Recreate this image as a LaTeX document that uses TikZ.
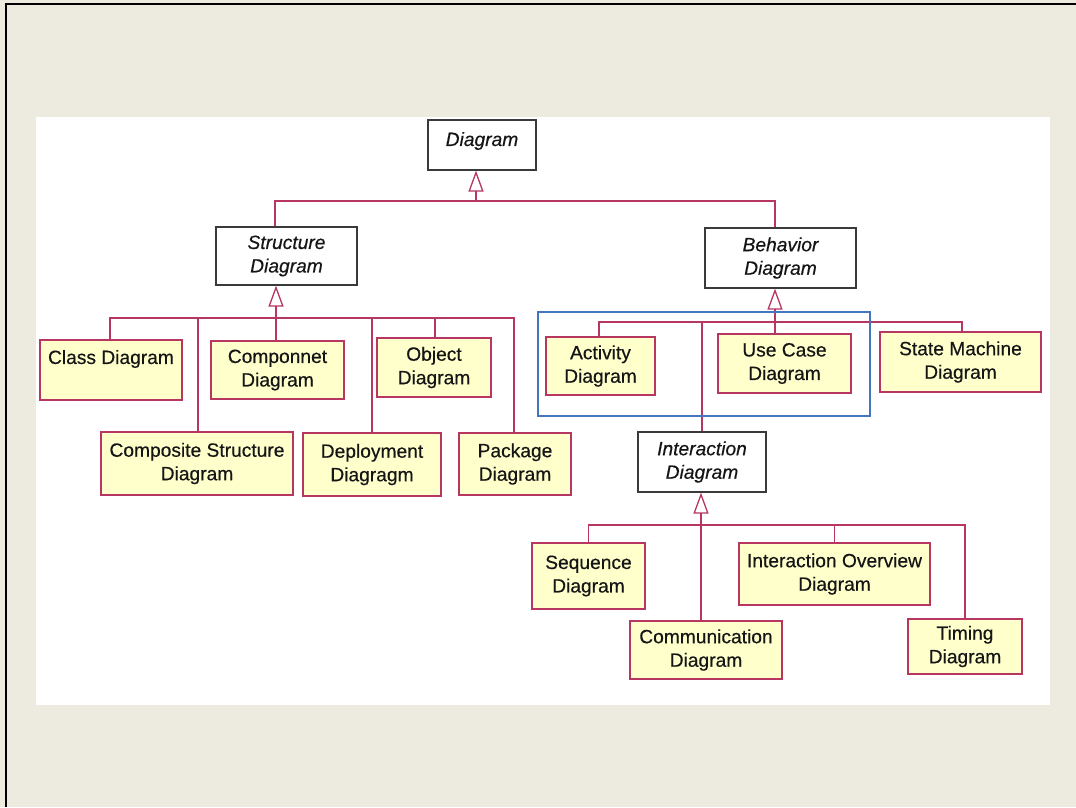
\documentclass[tikz,border=0pt]{standalone}
\usepackage{fontspec}
\setmainfont[FakeBold=0.4]{Liberation Sans}
\usetikzlibrary{arrows.meta}

\definecolor{slidebg}{HTML}{EDEAE0}
\definecolor{umlred}{HTML}{B73762}
\definecolor{notefill}{HTML}{FFFFCC}
\definecolor{hiblue}{HTML}{4475BD}
\definecolor{absborder}{HTML}{3A3A3A}
\definecolor{ink}{HTML}{151515}

\tikzset{
  boxfont/.style={font=\fontsize{19.2}{23.5}\selectfont},
  concrete/.style={draw=umlred, line width=1.4pt, fill=notefill, text=ink,
    boxfont, align=center, inner sep=0pt},
  abstract/.style={draw=absborder, line width=1.2pt, fill=white, text=ink,
    font=\fontsize{19.2}{23.5}\selectfont\itshape, align=center, inner sep=0pt},
  conn/.style={draw=umlred, line width=1.3pt},
  gen/.style={conn, -{Triangle[open, length=21pt, width=15pt]}},
  highlight/.style={draw=hiblue, line width=2.6pt, inner sep=0pt},
}

\begin{document}
\begin{tikzpicture}[x=1pt, y=-1pt]
  % slide and page
  \useasboundingbox (0,0) rectangle (1076,807);
  \fill[slidebg] (0,0) rectangle (1076,807);
  \fill[white] (36,117) rectangle (1050,705);
  \draw[black, line width=2pt] (6,807) -- (6,3.5) -- (1076,3.5);

  % abstract diagram kinds
  \node[abstract, minimum width=108pt, minimum height=50pt, text depth=12pt] (diag) at (482,145) {Diagram};
  \node[abstract, minimum width=141pt, minimum height=58pt] (struct) at (286.5,256) {Structure\\Diagram};
  \node[abstract, minimum width=151pt, minimum height=60pt] (behav) at (780.5,258) {Behavior\\Diagram};
  \node[abstract, minimum width=128pt, minimum height=60pt] (inter) at (702,462) {Interaction\\Diagram};

  % structure diagrams
  \node[concrete, minimum width=142pt, minimum height=60pt, text depth=26pt] (cls) at (111,370) {Class Diagram};
  \node[concrete, minimum width=133pt, minimum height=58pt] (comp) at (277.5,370) {Componnet\\Diagram};
  \node[concrete, minimum width=114pt, minimum height=59pt] (obj) at (434,367.5) {Object\\Diagram};
  \node[concrete, minimum width=192pt, minimum height=63pt] (compo) at (197,463.5) {Composite Structure\\Diagram};
  \node[concrete, minimum width=138pt, minimum height=63pt] (depl) at (372,464.5) {Deployment\\Diagragm};
  \node[concrete, minimum width=112pt, minimum height=62pt] (pkg) at (515,464) {Package\\Diagram};

  % behavior diagrams
  \node[concrete, minimum width=109pt, minimum height=58pt] (act) at (600.5,366) {Activity\\Diagram};
  \node[concrete, minimum width=133pt, minimum height=59pt] (uc) at (784.5,363.5) {Use Case\\Diagram};
  \node[concrete, minimum width=161pt, minimum height=60pt] (sm) at (960.5,362) {State Machine\\Diagram};

  % interaction diagrams
  \node[concrete, minimum width=113pt, minimum height=66pt] (seq) at (588.5,576) {Sequence\\Diagram};
  \node[concrete, minimum width=191pt, minimum height=62pt] (io) at (834.5,574) {Interaction Overview\\Diagram};
  \node[concrete, minimum width=152pt, minimum height=58pt] (comm) at (706,650) {Communication\\Diagram};
  \node[concrete, minimum width=114pt, minimum height=55pt] (tim) at (965,646.5) {Timing\\Diagram};

  % generalization junctions
  \coordinate (j1) at (476,201);
  \coordinate (j2) at (276,318);
  \coordinate (j3) at (775,322);
  \coordinate (j4) at (701,525);

  % Diagram <- Structure, Behavior
  \draw[gen] (j1) -- (j1 |- diag.south);
  \draw[conn] ([xshift=-11.5pt]struct.north) |- (j1) -| ([xshift=-5.5pt]behav.north);

  % Structure Diagram <- its kinds
  \draw[gen] (j2) -- (j2 |- struct.south);
  \draw[conn] ([xshift=-1pt]cls.north) |- (j2) -| ([xshift=-1pt]pkg.north);
  \draw[conn] ([xshift=1pt]compo.north) -- ([xshift=1pt]compo.north |- j2);
  \draw[conn] (comp.north -| j2) -- (j2);
  \draw[conn] (depl.north) -- (depl.north |- j2);
  \draw[conn] ([xshift=1pt]obj.north) -- ([xshift=1pt]obj.north |- j2);

  % Behavior Diagram <- its kinds
  \draw[gen] (j3) -- (j3 |- behav.south);
  \draw[conn] ([xshift=-1.5pt]act.north) |- (j3) -| ([xshift=1.5pt]sm.north);
  \draw[conn] (uc.north -| j3) -- (j3);
  \draw[conn] (inter.north) -- (inter.north |- j3);

  % Interaction Diagram <- its kinds
  \draw[gen] (j4) -- (j4 |- inter.south);
  \draw[conn] (seq.north) |- (j4) -| (tim.north);
  \draw[conn] (comm.north -| j4) -- (j4);
  \draw[conn] (io.north) -- (io.north |- j4);

  % highlighted group
  \node[highlight, minimum width=332pt, minimum height=104pt] (focus) at (704,364) {};
\end{tikzpicture}
\end{document}
